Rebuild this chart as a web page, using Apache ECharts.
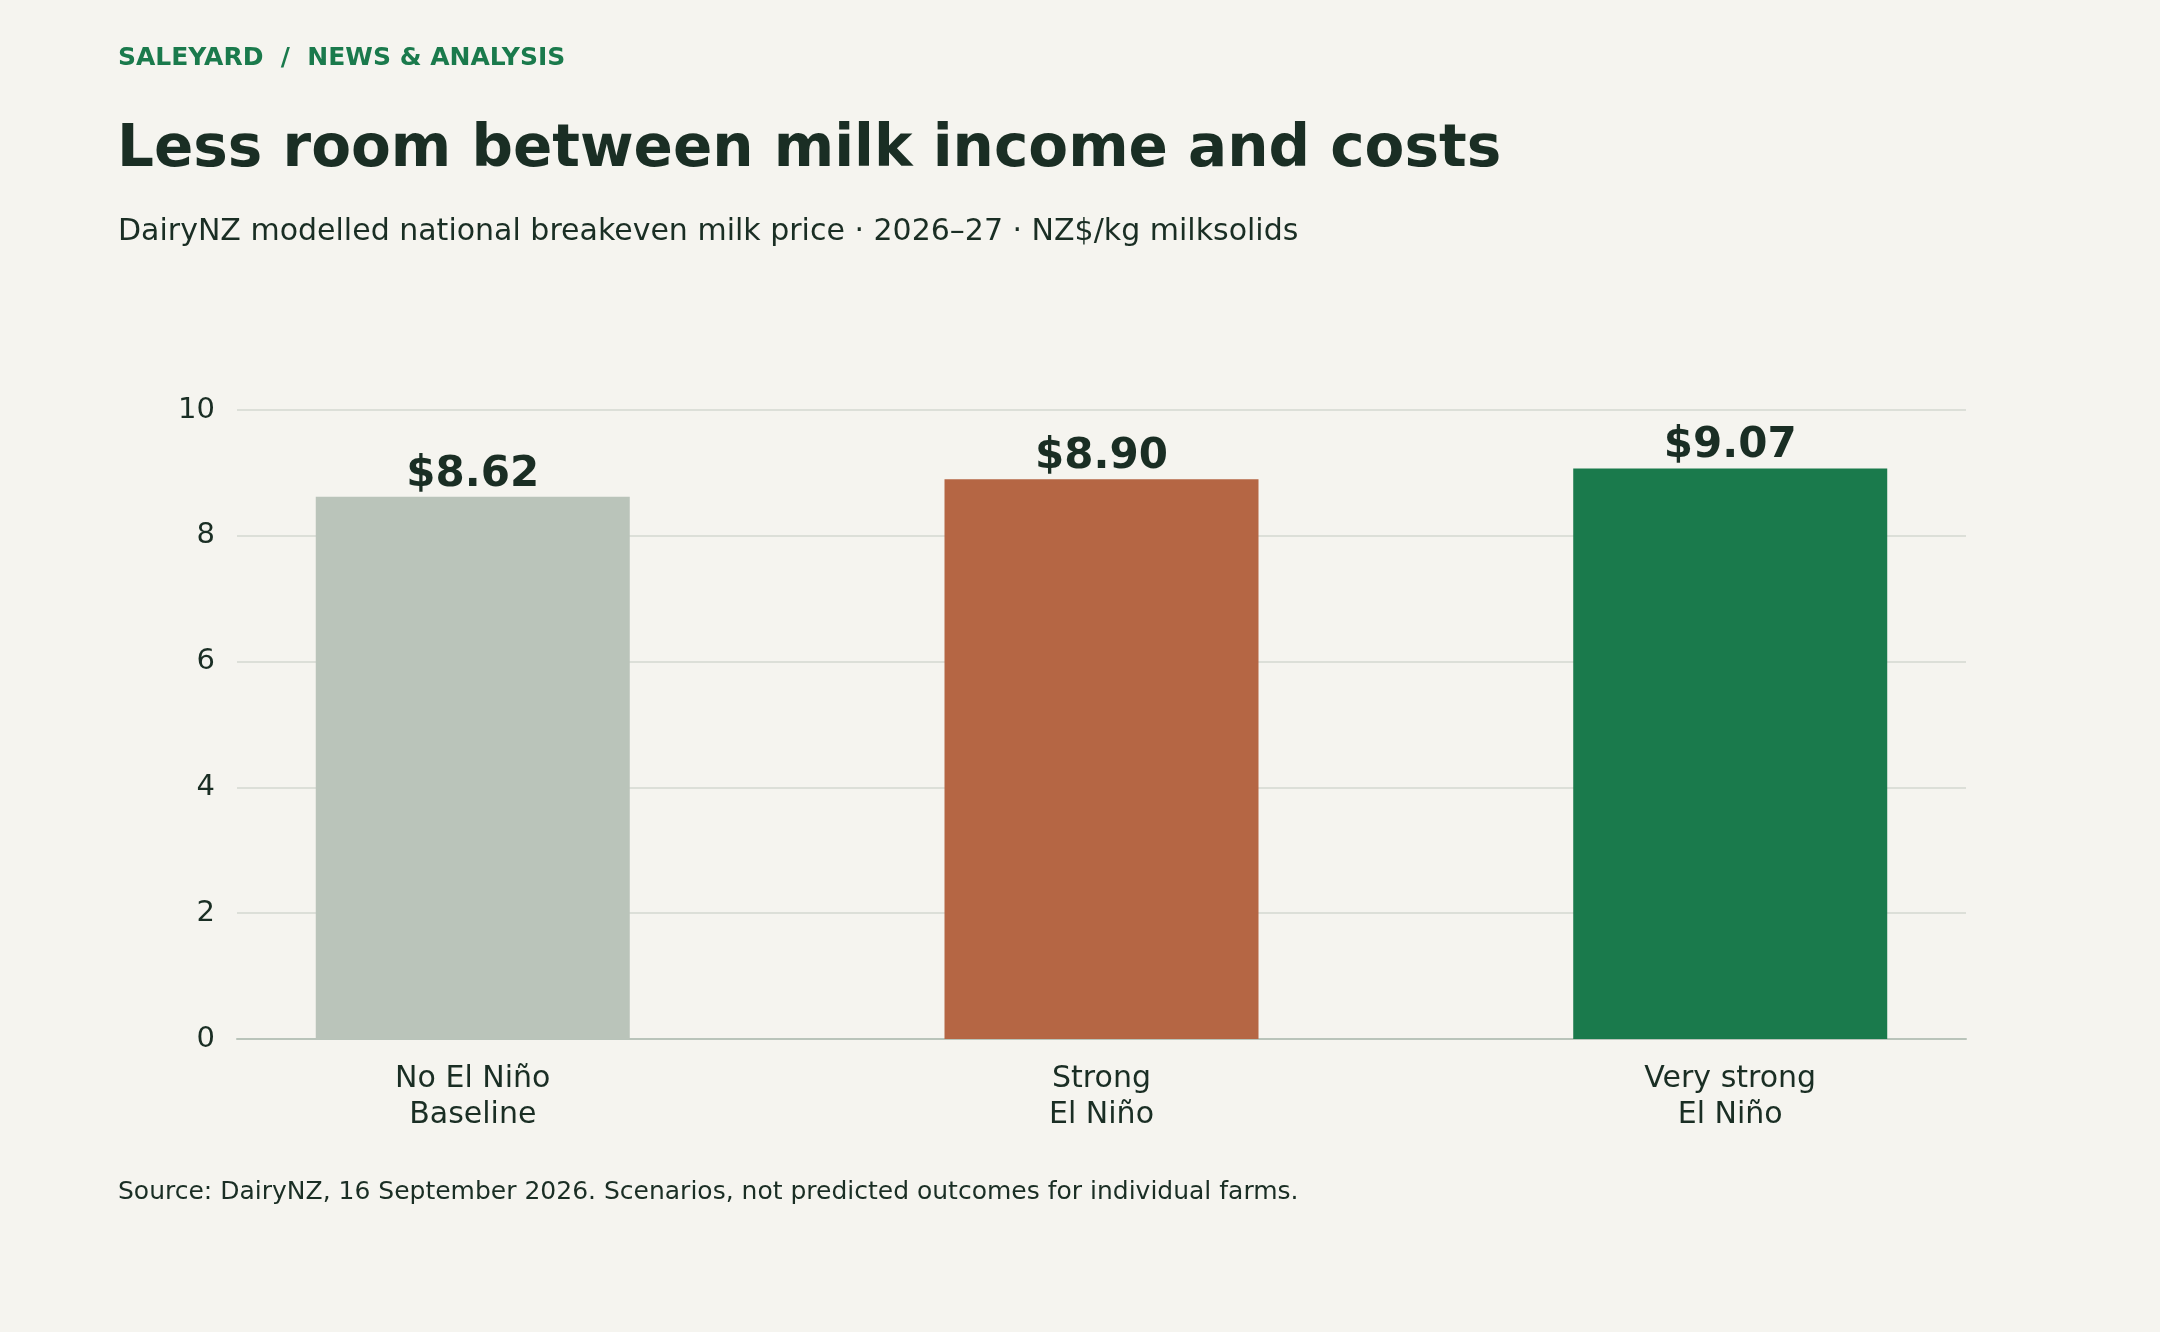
<!DOCTYPE html>
<html><head><meta charset="utf-8">
<script src="https://cdn.jsdelivr.net/npm/echarts@6/dist/echarts.min.js"></script>
<style>html,body{margin:0;padding:0;background:#f5f4ef;}#c{width:2160px;height:1332px;}</style>
</head><body><div id="c"></div>
<script>
const categories = ['No El Niño\nBaseline', 'Strong\nEl Niño', 'Very strong\nEl Niño'];
const values = [8.62, 8.90, 9.07];
const barColors = ['#bac4ba', '#b56644', '#1a7a4c'];
const yTicks = [0, 2, 4, 6, 8, 10];

const chart = echarts.init(document.getElementById('c'), null, {renderer: 'canvas'});
const font = 'DejaVu Sans';
const idx = categories.map((c, i) => i);
chart.setOption({
  backgroundColor: '#f5f4ef',
  animation: false,
  title: [
    {text: 'SALEYARD  /  NEWS & ANALYSIS', left: 118, top: 46, padding: 0, textStyle: {fontFamily: font, fontSize: 25, fontWeight: 'bold', color: '#1a7a4c'}},
    {text: 'Less room between milk income and costs', left: 117, top: 122, padding: 0, textStyle: {fontFamily: font, fontSize: 58, fontWeight: 'bold', color: '#1a2e24'}},
    {text: 'DairyNZ modelled national breakeven milk price · 2026–27 · NZ$/kg milksolids', left: 118, top: 217, padding: 0, textStyle: {fontFamily: font, fontSize: 30, fontWeight: 'normal', color: '#1a2e24'}},
    {text: 'Source: DairyNZ, 16 September 2026. Scenarios, not predicted outcomes for individual farms.', left: 118, top: 1180, padding: 0, textStyle: {fontFamily: font, fontSize: 25, fontWeight: 'normal', color: '#1a2e24'}}
  ],
  grid: {left: 237, right: 194, top: 410, bottom: 293, containLabel: false},
  xAxis: {
    type: 'value', min: -0.375, max: categories.length - 1 + 0.375,
    splitLine: {show: false},
    axisLine: {show: true, onZero: false, lineStyle: {color: '#b9c4ba', width: 2}},
    axisTick: {show: false},
    axisLabel: {customValues: idx, formatter: v => categories[Math.round(v)],
      fontFamily: font, fontSize: 30, color: '#1a2e24', lineHeight: 36, margin: 22}
  },
  yAxis: {
    type: 'value', min: yTicks[0], max: yTicks[yTicks.length - 1], interval: 2,
    axisLine: {show: false}, axisTick: {show: false},
    splitLine: {lineStyle: {color: '#dcdfd8', width: 2}},
    axisLabel: {fontFamily: font, fontSize: 29, color: '#1a2e24', margin: 22}
  },
  series: [{
    type: 'bar', barWidth: 314,
    data: values.map((v, i) => ({value: [i, v], itemStyle: {color: barColors[i]}})),
    label: {show: true, position: 'top', distance: 1, fontFamily: font, fontSize: 42, fontWeight: 'bold', color: '#1a2e24',
      formatter: p => '$' + p.value[1].toFixed(2)}
  }]
});
</script></body></html>
